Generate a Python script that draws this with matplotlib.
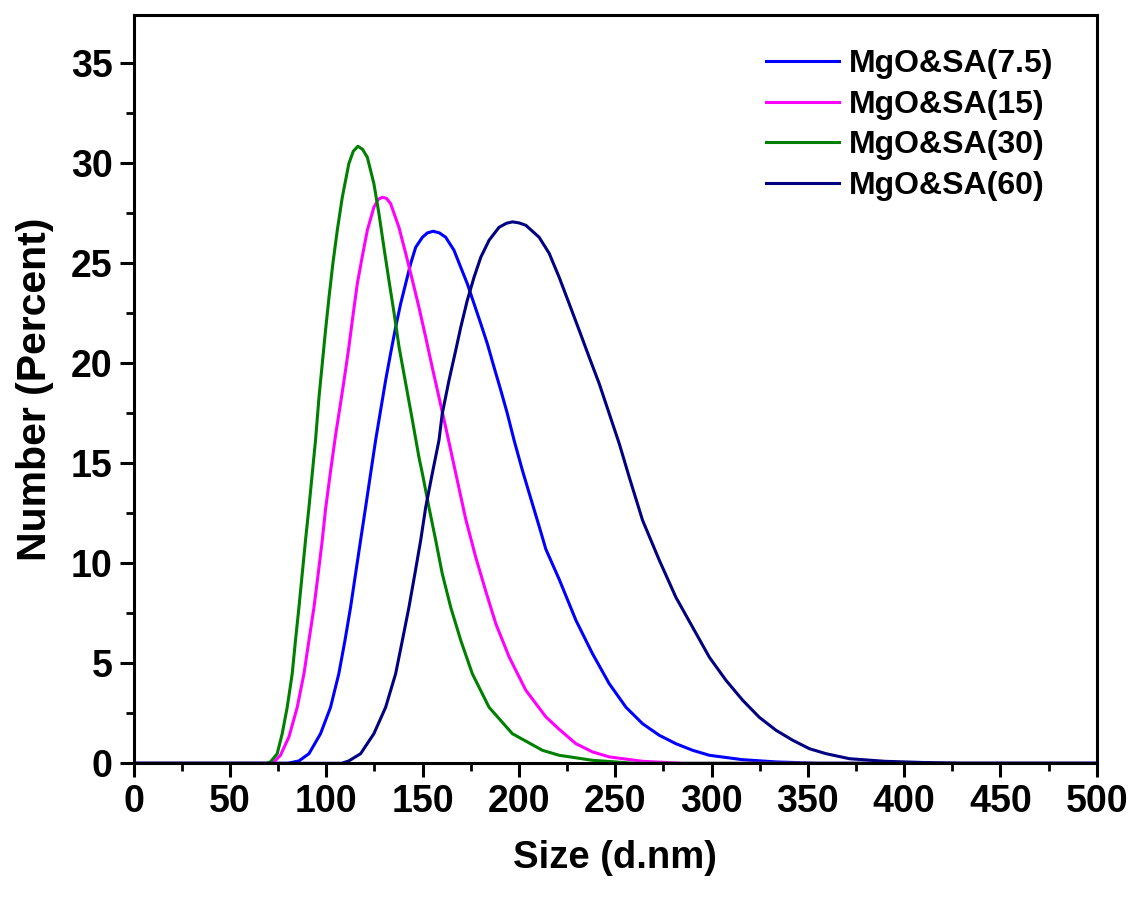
import matplotlib
matplotlib.use("Agg")
import matplotlib.pyplot as plt
from matplotlib.ticker import MultipleLocator

plt.rcParams['font.family'] = ['Liberation Sans', 'DejaVu Sans']
plt.rcParams['font.weight'] = 'bold'

labels = ["MgO&SA(7.5)", "MgO&SA(15)", "MgO&SA(30)", "MgO&SA(60)"]
colors = ["#0000FF", "#FF00FF", "#008000", "#000080"]

x_75 = [0, 80, 85.8, 91, 97, 102.2, 106.5, 109.7, 112.6, 115.2, 117.8, 120.4, 123, 125.6,
        128.2, 130.8, 133.4, 136, 138.6, 141.2, 143.8, 146.4, 149.9, 152.5, 155.5, 158.7,
        162, 166.3, 169.8, 173.2, 176.7, 180.2, 183.6, 187.1, 190.6, 194, 197.5, 201.8,
        206.2, 210.5, 214, 220.9, 229.6, 238.2, 246.9, 255.6, 264.2, 272.9, 281.5, 290.2,
        298.9, 316.2, 333.5, 355, 500]
y_75 = [0, 0, 0.12, 0.48, 1.48, 2.8, 4.48, 6.15, 7.8, 9.48, 11.15, 12.8, 14.48, 16.15,
        17.65, 19.15, 20.5, 21.8, 22.98, 23.98, 24.98, 25.8, 26.3, 26.52, 26.6, 26.52,
        26.3, 25.65, 24.8, 23.98, 22.98, 21.98, 20.98, 19.8, 18.65, 17.48, 16.15, 14.65,
        13.23, 11.85, 10.7, 9.2, 7.15, 5.48, 3.98, 2.8, 1.98, 1.4, 0.98, 0.65,
        0.4, 0.18, 0.07, 0, 0]

x_15 = [0, 71, 72.8, 76.2, 80.6, 84.9, 88.4, 91, 93.6, 95.8, 97.9, 99.6, 102.2, 104.8,
        107.4, 109.6, 111.7, 114, 116.1, 118.6, 121.3, 124.7, 127, 129.1, 131.2, 133.4,
        137.7, 141.2, 144.7, 148.1, 151.6, 155, 158.5, 162.8, 167.2, 172.4, 177.6, 182.8,
        188, 194.9, 203.6, 214, 220.9, 229.6, 238.2, 246.9, 264.2, 285, 500]
y_15 = [0, 0, 0.07, 0.4, 1.32, 2.8, 4.48, 6.15, 7.8, 9.48, 11.15, 12.7, 14.6, 16.4,
        18.0, 19.4, 20.8, 22.5, 23.98, 25.3, 26.65, 27.8, 28.2, 28.3, 28.25, 27.98,
        26.8, 25.5, 24.15, 22.8, 21.3, 19.8, 18.3, 16.45, 14.5, 12.2, 10.3, 8.6,
        6.98, 5.32, 3.65, 2.32, 1.7, 0.98, 0.57, 0.32, 0.1, 0, 0]

x_30 = [0, 69, 71, 74.5, 77.1, 79.7, 82.3, 84, 85.8, 87.5, 89.2, 91, 92.7, 94.4, 96.2,
        97.9, 99.6, 101.4, 103.4, 105.7, 108.3, 111.7, 114, 116.4, 118.8, 121.3, 124.7,
        127.3, 129.9, 132.5, 135.2, 137.8, 141.2, 144.7, 148.1, 149.9, 153.3, 156.8,
        160.2, 164.6, 169.8, 175.8, 184.5, 196.6, 212.2, 220.9, 238.2, 260, 500]
y_30 = [0, 0, 0.07, 0.48, 1.48, 2.8, 4.48, 6.15, 7.8, 9.48, 11.15, 12.8, 14.48, 16.15,
        18.3, 19.98, 21.65, 23.3, 24.98, 26.65, 28.3, 29.98, 30.6, 30.85, 30.7, 30.3,
        28.98, 27.5, 25.8, 24.15, 22.5, 20.8, 19, 17.15, 15.3, 14.48, 12.8, 11.15,
        9.48, 7.8, 6.15, 4.48, 2.8, 1.48, 0.65, 0.4, 0.15, 0, 0]

x_60 = [0, 108, 111.7, 117.8, 124.7, 130.8, 136, 139.5, 142.9, 146, 149, 151.6, 155,
        158.5, 160.2, 163.7, 167.2, 169.8, 173.2, 176.7, 180.2, 184.5, 189.7, 193.5,
        196.6, 200, 203.6, 210.5, 215.7, 220.9, 226.1, 231.3, 236.5, 241.7, 246.9, 252.1,
        257.3, 264.2, 272.9, 281.5, 290.2, 298.9, 307.5, 316.2, 324.8, 333.5, 342.2,
        350.8, 359.5, 371.6, 390, 410, 430, 500]
y_60 = [0, 0, 0.12, 0.48, 1.48, 2.8, 4.48, 6.15, 7.8, 9.48, 11.15, 12.8, 14.48,
        16.15, 17.48, 19.15, 20.65, 21.8, 23.15, 24.3, 25.3, 26.15, 26.8, 27.0,
        27.07, 27.02, 26.9, 26.3, 25.5, 24.3, 22.98, 21.65, 20.3, 18.98, 17.48, 15.98,
        14.3, 12.15, 10.15, 8.3, 6.8, 5.3, 4.15, 3.15, 2.3, 1.65, 1.15,
        0.73, 0.48, 0.23, 0.1, 0.04, 0, 0]

xs = [x_75, x_15, x_30, x_60]
ys = [y_75, y_15, y_30, y_60]

fig = plt.figure(figsize=(11.33, 8.98), dpi=100)
ax = fig.add_axes([0.118, 0.150, 0.850, 0.833])

for x, y, c, l in zip(xs, ys, colors, labels):
    ax.plot(x, y, color=c, lw=2.2, label=l, solid_joinstyle='round')

ax.set_xlim(0, 500)
ax.set_ylim(0, 37.4)
ax.xaxis.set_major_locator(MultipleLocator(50))
ax.xaxis.set_minor_locator(MultipleLocator(25))
ax.yaxis.set_major_locator(MultipleLocator(5))
ax.yaxis.set_minor_locator(MultipleLocator(2.5))
ax.tick_params(which='major', direction='out', length=10, width=2.2, labelsize=27, pad=5)
ax.tick_params(which='minor', direction='out', length=6, width=2.0)
ax.tick_params(top=False, right=False)
for s in ax.spines.values():
    s.set_linewidth(2.2)
for lab in ax.get_xticklabels() + ax.get_yticklabels():
    lab.set_fontweight('bold')

ax.set_xlabel("Size (d.nm)", fontsize=27.5, fontweight='bold', labelpad=14)
ax.set_ylabel("Number (Percent)", fontsize=29.5, fontweight='bold', labelpad=12)

leg = ax.legend(loc='upper right', frameon=False, fontsize=23, handlelength=2.3,
                handletextpad=0.3, labelspacing=0.33, bbox_to_anchor=(0.985, 0.993))
for t in leg.get_texts():
    t.set_fontweight('bold')

fig.savefig("out.png", dpi=100)
